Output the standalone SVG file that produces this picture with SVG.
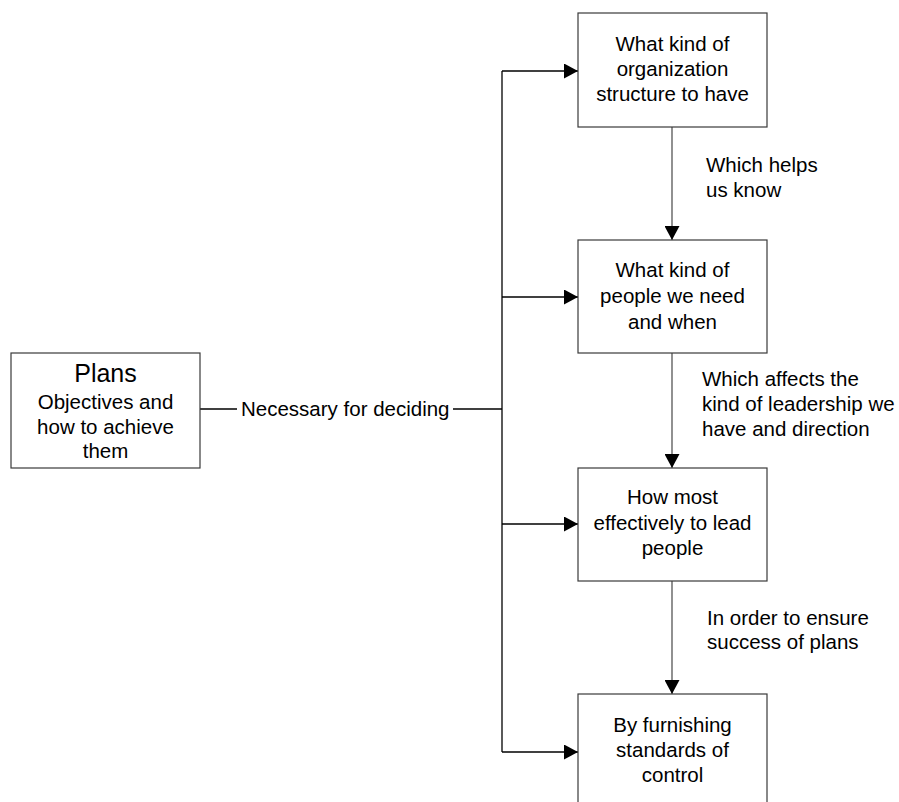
<svg xmlns="http://www.w3.org/2000/svg" width="899" height="802" viewBox="0 0 899 802">
  <defs>
    <marker id="arrow" viewBox="0 0 14 15" refX="14" refY="7.5" markerWidth="14" markerHeight="15" markerUnits="userSpaceOnUse" orient="auto">
      <path d="M0,0 L14,7.5 L0,15 Z" fill="#000"/>
    </marker>
    <style>
      .box { fill: #fff; stroke: #3a3a3a; stroke-width: 1.2; }
      .txt { font-family: "Liberation Sans", Arial, sans-serif; font-size: 20.5px; fill: #000; }
      .mid { text-anchor: middle; }
      .title { font-size: 25px; }
      .trunk { fill: none; stroke: #000; stroke-width: 1.3; }
      .flow { fill: none; stroke: #555; stroke-width: 1.3; }
    </style>
  </defs>
  <rect width="899" height="802" fill="#fff"/>

  <!-- connectors -->
  <g id="connectors">
    <line class="trunk" x1="200" y1="409" x2="237" y2="409"/>
    <line class="trunk" x1="453" y1="409" x2="502" y2="409"/>
    <line class="trunk" x1="502" y1="71" x2="502" y2="752"/>
    <line class="trunk" x1="502" y1="71" x2="578" y2="71" marker-end="url(#arrow)"/>
    <line class="trunk" x1="502" y1="297" x2="578" y2="297" marker-end="url(#arrow)"/>
    <line class="trunk" x1="502" y1="524" x2="578" y2="524" marker-end="url(#arrow)"/>
    <line class="trunk" x1="502" y1="752" x2="578" y2="752" marker-end="url(#arrow)"/>
    <line class="flow" x1="672" y1="127" x2="672" y2="240" marker-end="url(#arrow)"/>
    <line class="flow" x1="672" y1="353" x2="672" y2="468" marker-end="url(#arrow)"/>
    <line class="flow" x1="672" y1="581" x2="672" y2="694" marker-end="url(#arrow)"/>
    <text class="txt" x="241" y="416">Necessary for deciding</text>
    <text class="txt" x="706" y="172">Which helps</text>
    <text class="txt" x="706" y="197">us know</text>
    <text class="txt" x="702" y="386">Which affects the</text>
    <text class="txt" x="702" y="411">kind of leadership we</text>
    <text class="txt" x="702" y="436">have and direction</text>
    <text class="txt" x="707" y="625">In order to ensure</text>
    <text class="txt" x="707" y="649">success of plans</text>
  </g>

  <!-- nodes -->
  <g id="plans">
    <rect class="box" x="11" y="353" width="189" height="115"/>
    <text class="txt mid title" x="105.5" y="382">Plans</text>
    <text class="txt mid" x="105.5" y="409">Objectives and</text>
    <text class="txt mid" x="105.5" y="434">how to achieve</text>
    <text class="txt mid" x="105.5" y="458">them</text>
  </g>

  <g id="structure">
    <rect class="box" x="578" y="13" width="189" height="114"/>
    <text class="txt mid" x="672.5" y="51">What kind of</text>
    <text class="txt mid" x="672.5" y="76">organization</text>
    <text class="txt mid" x="672.5" y="101">structure to have</text>
  </g>

  <g id="people">
    <rect class="box" x="578" y="240" width="189" height="113"/>
    <text class="txt mid" x="672.5" y="277">What kind of</text>
    <text class="txt mid" x="672.5" y="303">people we need</text>
    <text class="txt mid" x="672.5" y="329">and when</text>
  </g>

  <g id="leadership">
    <rect class="box" x="578" y="468" width="189" height="113"/>
    <text class="txt mid" x="672.5" y="504">How most</text>
    <text class="txt mid" x="672.5" y="530">effectively to lead</text>
    <text class="txt mid" x="672.5" y="555">people</text>
  </g>

  <g id="control">
    <rect class="box" x="578" y="694" width="189" height="114"/>
    <text class="txt mid" x="672.5" y="732">By furnishing</text>
    <text class="txt mid" x="672.5" y="757">standards of</text>
    <text class="txt mid" x="672.5" y="782">control</text>
  </g>
</svg>
